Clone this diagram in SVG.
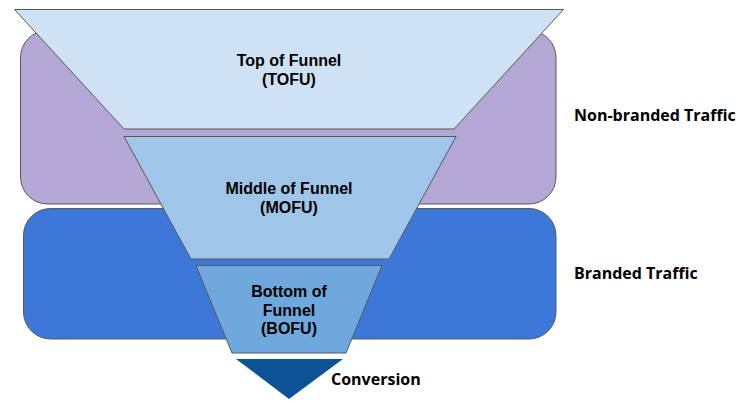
<svg xmlns="http://www.w3.org/2000/svg" width="750" height="408" viewBox="0 0 750 408">
<style>
.box{stroke:#595959;stroke-width:1}
.fun{stroke:#595959;stroke-width:1}
.t{font-family:"Liberation Sans",Arial,sans-serif;font-weight:bold;font-size:16px;fill:#000;text-anchor:middle}
.l{font-family:"Open Sans","Noto Sans",sans-serif;font-weight:bold;font-size:16px;fill:#000}
</style>
<rect width="750" height="408" fill="#fff"/>
<g id="nonbranded-band">
<rect class="box" x="20.5" y="30.5" width="535.5" height="173.5" rx="27" fill="#b4a7d6"/>
</g>
<g id="branded-band">
<rect class="box" x="23.5" y="208.5" width="532.5" height="130.5" rx="27" fill="#3c78d8"/>
</g>
<g id="tofu">
<polygon class="fun" points="14.5,9.5 563.5,9.5 454,129 124,129" fill="#cfe2f3"/>
<text class="t" x="289" y="66">Top of Funnel</text>
<text class="t" x="289" y="85">(TOFU)</text>
</g>
<g id="mofu">
<polygon class="fun" points="124,136.5 456,136.5 389,259 191,259" fill="#9fc5e8"/>
<text class="t" x="289" y="194">Middle of Funnel</text>
<text class="t" x="289" y="213">(MOFU)</text>
</g>
<g id="bofu">
<polygon class="fun" points="196,265.5 382,265.5 346,353 232,353" fill="#6fa8dc"/>
<text class="t" x="289" y="297">Bottom of</text>
<text class="t" x="289" y="316">Funnel</text>
<text class="t" x="289" y="334">(BOFU)</text>
</g>
<g id="conversion">
<polygon points="236,359 343,359 289,399" fill="#0b5394"/>
<text class="l" x="331" y="385">Conversion</text>
</g>
<g id="labels">
<text class="l" x="574" y="121">Non-branded Traffic</text>
<text class="l" x="574" y="279">Branded Traffic</text>
</g>
<g id="connectors"></g>
</svg>
